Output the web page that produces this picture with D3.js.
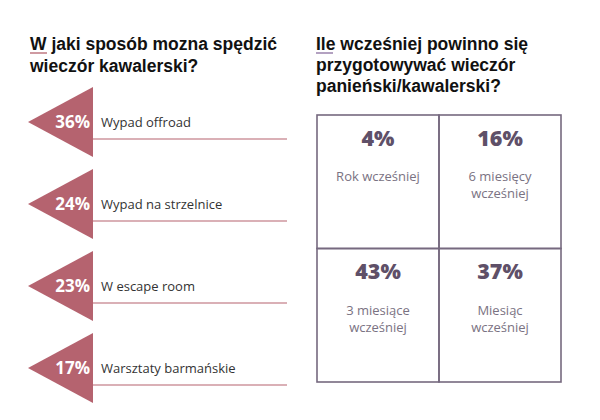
<!DOCTYPE html>
<html><head><meta charset="utf-8">
<script src="https://cdn.jsdelivr.net/npm/d3@7"></script>
<style>body{margin:0;background:#fff}svg{display:block}</style>
</head><body><svg id="c" width="600" height="420"></svg>
<script>
const leftTitle = ["W jaki sposób mozna spędzić", "wieczór kawalerski?"];
const leftCategories = ["Wypad offroad", "Wypad na strzelnice", "W escape room", "Warsztaty barmańskie"];
const leftValues = [36, 24, 23, 17];
const rightTitle = ["Ile wcześniej powinno się", "przygotowywać wieczór", "panieński/kawalerski?"];
const rightCategories = [["Rok wcześniej"], ["6 miesięcy", "wcześniej"], ["3 miesiące", "wcześniej"], ["Miesiąc", "wcześniej"]];
const rightValues = [4, 16, 43, 37];

const FONT = "'Open Sans', sans-serif";
const TFONT = "'Liberation Sans', Arial, sans-serif";
const ROSE = "#b5636f";
const svg = d3.select("#c");

// Left title
const lt = svg.append("text").attr("x", 30).attr("y", 50)
  .attr("font-family", TFONT).attr("font-weight", 700).attr("font-size", 17.5).attr("fill", "#111");
lt.selectAll("tspan").data(leftTitle).join("tspan")
  .attr("x", 30).attr("dy", (d, i) => i ? 22 : 0).text(d => d);
svg.append("line").attr("x1", 30).attr("x2", 47).attr("y1", 53).attr("y2", 53)
  .attr("stroke", ROSE).attr("stroke-width", 1.3);

// Left rows
const yRow = d3.scaleBand().domain(leftCategories).range([81, 409]);
const rows = svg.append("g").selectAll("g").data(leftCategories).join("g")
  .attr("transform", d => `translate(0,${yRow(d) + yRow.bandwidth() / 2})`);
rows.append("path").attr("d", "M28,0 L93,-35 L93,35 Z").attr("fill", ROSE);
rows.append("line").attr("x1", 93).attr("x2", 287).attr("y1", 17).attr("y2", 17)
  .attr("stroke", ROSE).attr("stroke-width", 1.2);
rows.append("text").attr("x", 90).attr("y", 0).attr("dy", "0.36em").attr("text-anchor", "end")
  .attr("font-family", FONT).attr("font-weight", 700).attr("font-size", 17).attr("fill", "#fff")
  .text((d, i) => leftValues[i] + "%");
rows.append("text").attr("x", 101).attr("y", 0).attr("dy", "0.36em")
  .attr("font-family", FONT).attr("font-size", 13).attr("fill", "#333")
  .text(d => d);

// Right title
const rt = svg.append("text").attr("x", 316).attr("y", 50)
  .attr("font-family", TFONT).attr("font-weight", 700).attr("font-size", 17.5).attr("fill", "#111");
rt.selectAll("tspan").data(rightTitle).join("tspan")
  .attr("x", 316).attr("dy", (d, i) => i ? 21 : 0).text(d => d);
svg.append("line").attr("x1", 316).attr("x2", 333).attr("y1", 53).attr("y2", 53)
  .attr("stroke", "#8a6fa0").attr("stroke-width", 1.3);

// Right grid
const xCol = d3.scaleBand().domain([0, 1]).range([317, 561]);
const yGrid = d3.scaleBand().domain([0, 1]).range([115, 382]);
const cells = svg.append("g").selectAll("g").data(rightValues).join("g")
  .attr("transform", (d, i) => `translate(${xCol(i % 2)},${yGrid(Math.floor(i / 2))})`);
cells.append("rect").attr("width", xCol.bandwidth()).attr("height", yGrid.bandwidth())
  .attr("fill", "none").attr("stroke", "#76697f").attr("stroke-width", 1.6);
cells.append("text").attr("x", xCol.bandwidth() / 2).attr("y", 23).attr("dy", "0.36em")
  .attr("text-anchor", "middle").attr("font-family", FONT).attr("font-weight", 800)
  .attr("font-size", 21.5).attr("fill", "#5f5068").text(d => d + "%");
cells.each(function (d, i) {
  const t = d3.select(this).append("text").attr("x", xCol.bandwidth() / 2).attr("y", 66)
    .attr("text-anchor", "middle").attr("font-family", FONT).attr("font-size", 13).attr("fill", "#7a7282");
  t.selectAll("tspan").data(rightCategories[i]).join("tspan")
    .attr("x", xCol.bandwidth() / 2).attr("dy", (s, j) => j ? 17 : 0).text(s => s);
});
</script></body></html>
